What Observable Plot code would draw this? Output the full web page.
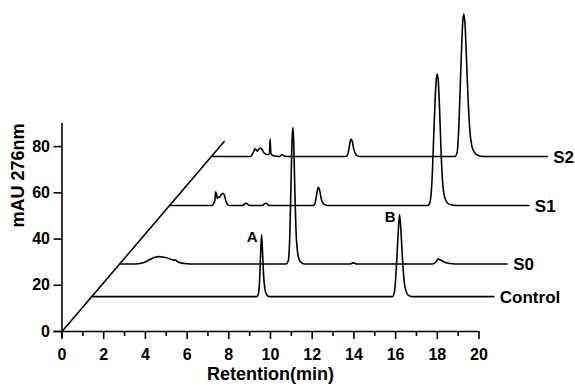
<!DOCTYPE html>
<html>
<head>
<meta charset="utf-8">
<script src="https://cdn.jsdelivr.net/npm/d3@7"></script>
<script src="https://cdn.jsdelivr.net/npm/@observablehq/plot@0.6"></script>
<style>
  html, body { margin: 0; padding: 0; background: #fff; }
  #chart svg { display: block; }
</style>
</head>
<body>
<div id="chart"></div>
<script>
// ---- data (plotted retention, mAU) ----
const seriesNames = ["Control", "S0", "S1", "S2"];
const xTicks = [0, 2, 4, 6, 8, 10, 12, 14, 16, 18, 20];
const xMinorTicks = [1, 3, 5, 7, 9, 11, 13, 15, 17, 19];
const yTicks = [0, 20, 40, 60, 80];
const diagonal = [[0, 0], [7.78, 82.2]];

const controlTrace = [
  [1.41, 15.1], [9.34, 15.1], [9.42, 16.3], [9.47, 21], [9.52, 32], [9.57, 41.9],
  [9.62, 34], [9.67, 24], [9.73, 18.5], [9.81, 16], [9.93, 15.1],
  [15.85, 15.1], [15.95, 17.5], [16.05, 30], [16.12, 42], [16.19, 50.6], [16.26, 43],
  [16.34, 30], [16.42, 21], [16.52, 17], [16.65, 15.5], [16.85, 15.1], [20.71, 15.1]
];
const s0Trace = [
  [2.77, 29.2], [3.5, 29.2], [3.85, 29.6], [4.15, 30.8], [4.4, 31.9], [4.65, 32.4],
  [4.95, 32.0], [5.25, 31.2], [5.38, 30.8], [5.45, 30.9], [5.52, 30.3], [5.7, 29.7],
  [6.0, 29.3], [6.3, 29.2],
  [10.75, 29.2], [10.85, 30.5], [10.92, 40], [10.98, 62], [11.03, 82], [11.07, 88.3],
  [11.11, 83], [11.16, 64], [11.22, 44], [11.29, 35], [11.38, 31], [11.5, 29.7], [11.65, 29.2],
  [13.8, 29.2], [13.97, 29.7], [14.15, 29.2],
  [17.75, 29.2], [17.92, 29.9], [18.04, 31.3], [18.18, 30.8], [18.35, 30.0], [18.6, 29.4],
  [18.85, 29.2], [21.35, 29.2]
];
const s1Trace = [
  [5.2, 54.5], [7.2, 54.5], [7.28, 55.6], [7.33, 56.5], [7.37, 60.5], [7.41, 59.5],
  [7.45, 57.5], [7.5, 58.2], [7.55, 58.1], [7.62, 59.0], [7.7, 59.8], [7.78, 59.2],
  [7.86, 56.5], [7.95, 54.8], [8.05, 54.5],
  [8.65, 54.5], [8.83, 55.5], [9.0, 54.5], [9.6, 54.5], [9.77, 55.5], [9.95, 54.5],
  [12.05, 54.5], [12.13, 55.3], [12.2, 58.5], [12.25, 61.2], [12.3, 62.4], [12.36, 61],
  [12.42, 58], [12.5, 55.8], [12.6, 54.9], [12.75, 54.5],
  [17.55, 54.5], [17.65, 56], [17.75, 66], [17.83, 85], [17.9, 101], [17.95, 109],
  [18.0, 111.4], [18.05, 108], [18.11, 96], [18.18, 78], [18.26, 64], [18.36, 58],
  [18.5, 55.5], [18.7, 54.7], [18.9, 54.5], [22.39, 54.5]
];
const s2Trace = [
  [7.2, 75.7], [9.05, 75.7], [9.12, 76.5], [9.2, 78.0], [9.25, 79.0], [9.31, 78.6],
  [9.36, 78.0], [9.44, 78.9], [9.52, 79.4], [9.6, 78.7], [9.7, 77.2], [9.8, 76.6],
  [9.9, 76.6], [9.95, 77], [9.98, 83.3], [10.02, 77], [10.08, 76.3], [10.2, 75.9],
  [10.4, 75.7], [10.47, 75.9], [10.56, 76.6], [10.67, 75.9], [10.8, 75.7],
  [13.62, 75.7], [13.7, 76.5], [13.77, 79.5], [13.83, 82.5], [13.87, 83.3], [13.93, 82],
  [13.99, 79], [14.07, 77], [14.17, 76], [14.32, 75.7],
  [18.85, 75.7], [18.95, 77.5], [19.03, 88], [19.1, 106], [19.17, 124], [19.22, 134],
  [19.27, 137.4], [19.33, 133], [19.4, 118], [19.48, 100], [19.56, 87], [19.65, 80.5],
  [19.78, 77.5], [19.95, 76.2], [20.2, 75.7], [23.27, 75.7]
];
const peakLabels = [
  { name: "A", t: 9.57, v: 41.9 },
  { name: "B", t: 16.19, v: 50.6 }
];

// ---- build tables ----
const traces = [controlTrace, s0Trace, s1Trace, s2Trace];
const lineData = traces.flatMap((tr, i) => tr.map(([t, v]) => ({ series: seriesNames[i], t, v })));
const endData = traces.map((tr, i) => ({ series: seriesNames[i], t: tr[tr.length - 1][0], v: tr[tr.length - 1][1] }));
const diagData = diagonal.map(([t, v]) => ({ t, v }));

const font = "'Liberation Sans', Arial, Helvetica, sans-serif";

const chart = Plot.plot({
  width: 575,
  height: 388,
  marginLeft: 61.5,
  marginRight: 96.5,
  marginTop: 123,
  marginBottom: 57,
  x: { domain: [0, 20] },
  y: { domain: [0, 90] },
  style: { fontFamily: font, fontWeight: "bold", color: "black", background: "white", overflow: "visible" },
  marks: [
    Plot.ruleY([0], { stroke: "black", strokeWidth: 1.6, insetLeft: -8 }),
    Plot.ruleX([0], { stroke: "black", strokeWidth: 1.6, insetBottom: -6 }),
    Plot.axisY({ ticks: yTicks, tickSize: 8, tickPadding: 4, fontSize: 16, label: null, strokeWidth: 1.6 }),
    Plot.axisX({ ticks: xTicks, tickSize: 8, tickPadding: 9, fontSize: 16, label: null, strokeWidth: 1.6 }),
    Plot.axisX({ ticks: xMinorTicks, tickSize: 5, tickFormat: () => "", label: null, strokeWidth: 1.6 }),
    Plot.line(diagData, { x: "t", y: "v", stroke: "black", strokeWidth: 1.6 }),
    Plot.line(lineData, { x: "t", y: "v", z: "series", curve: "monotone-x", stroke: "black", strokeWidth: 1.6 }),
    Plot.text(endData, { x: "t", y: "v", text: "series", textAnchor: "start", dx: 6, dy: 1, fontSize: 17, fontWeight: "bold", fill: "black" }),
    Plot.text(peakLabels, { x: "t", y: "v", text: "name", textAnchor: "end", dx: -4, dy: 3, fontSize: 15, fontWeight: "bold", fill: "black" }),
    Plot.text(["mAU 276nm"], { frameAnchor: "left", rotate: -90, dx: -44, fontSize: 18, fontWeight: "bold", fill: "black" }),
    Plot.text(["Retention(min)"], { frameAnchor: "bottom", dy: 48, fontSize: 18, fontWeight: "bold", fill: "black" })
  ]
});
document.getElementById("chart").appendChild(chart);
</script>
</body>
</html>
